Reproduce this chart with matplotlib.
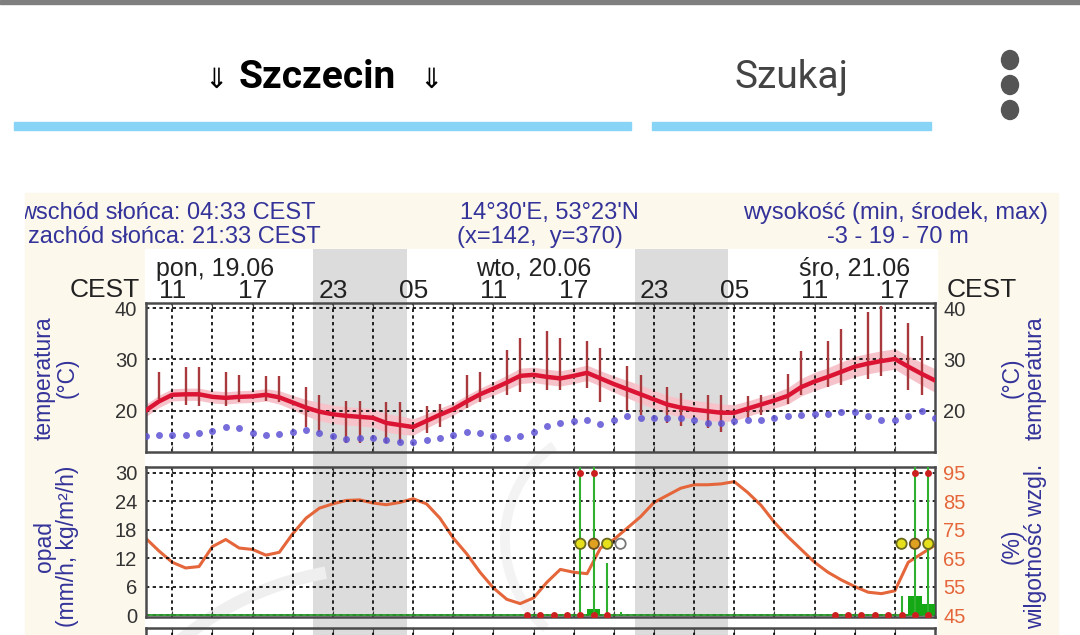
import matplotlib
matplotlib.use('Agg')
import matplotlib.pyplot as plt
from matplotlib.patches import Rectangle, Ellipse, Arc
from matplotlib import transforms

plt.rcParams['font.family'] = ['Liberation Sans', 'DejaVu Sans']

W, H = 1080, 635

# hourly series, hours counted from 19.06 00:00
hours = list(range(9, 69))
temp = [20.0, 21.8, 23.1, 23.2, 23.2, 22.7, 22.5, 22.7, 22.8, 23.1,
        22.6, 21.6, 20.6, 19.8, 19.3, 19.0, 18.8, 18.6, 17.6, 17.2,
        16.8, 18.0, 19.2, 20.3, 21.8, 23.2, 24.3, 25.5, 26.8, 27.0,
        26.6, 26.3, 26.8, 27.4, 26.3, 25.2, 24.2, 23.2, 22.2, 21.2,
        20.6, 20.2, 19.9, 19.6, 19.6, 20.4, 21.2, 22.0, 22.9, 24.6,
        25.7, 26.6, 27.6, 28.6, 29.2, 29.7, 30.1, 28.6, 27.2, 25.9]
band_half = [1.2, 1.2, 1.2, 1.2, 1.2, 1.2, 1.2, 1.2, 1.2, 1.2,
             1.3, 1.4, 1.6, 1.8, 1.8, 1.8, 1.8, 1.8, 1.8, 1.8,
             1.6, 1.4, 1.3, 1.2, 1.2, 1.2, 1.3, 1.4, 1.5, 1.5,
             1.5, 1.5, 1.5, 1.5, 1.5, 1.6, 1.7, 1.8, 1.8, 1.8,
             1.8, 1.8, 1.8, 1.7, 1.6, 1.5, 1.5, 1.5, 1.6, 1.7,
             1.8, 1.8, 1.9, 2.0, 2.0, 2.0, 2.0, 2.1, 2.2, 2.3]
dew = [15.0, 15.3, 15.3, 15.3, 15.7, 16.1, 16.9, 16.6, 15.7, 15.3,
       15.4, 15.9, 16.3, 15.6, 15.0, 14.5, 14.7, 14.7, 14.2, 13.8,
       13.8, 14.3, 14.7, 15.3, 15.9, 15.7, 15.0, 14.7, 15.0, 15.9,
       17.1, 17.6, 17.9, 18.1, 17.4, 18.1, 18.9, 18.6, 18.6, 18.6,
       18.6, 18.1, 17.6, 17.5, 17.9, 18.1, 18.2, 18.6, 18.9, 19.2,
       19.4, 19.4, 19.7, 19.7, 19.0, 18.1, 18.1, 19.0, 19.9, 18.6]
whisk_hours = [10, 12, 13, 15, 16, 18, 19, 21, 22, 24, 25, 27, 28, 30, 31, 33, 34, 36, 37,
               39, 40, 42, 43, 45, 46, 48, 49, 51, 52, 54, 55, 57, 58, 60, 61, 63, 64, 66, 67]
whisk_hi = [27.5, 28.6, 28.6, 27.5, 26.9, 26.7, 26.7, 24.7, 23.1, 21.8, 21.8, 21.6, 21.6,
            21.0, 21.4, 27.0, 27.6, 31.8, 34.1, 35.5, 34.1, 33.6, 32.2, 28.8, 26.9, 24.7,
            23.5, 23.1, 23.1, 22.8, 23.1, 27.2, 31.6, 33.6, 35.9, 39.2, 40.4, 37.1, 34.5]
whisk_lo = [22.2, 21.2, 21.0, 21.0, 21.6, 21.8, 21.6, 16.9, 15.9, 13.7, 13.7, 13.7, 13.7,
            15.7, 16.9, 20.6, 21.6, 23.1, 23.7, 24.1, 24.1, 24.5, 21.6, 20.2, 19.2, 17.5,
            17.1, 16.7, 15.9, 18.6, 19.2, 21.4, 23.1, 24.7, 25.1, 26.1, 26.7, 24.1, 23.1]
humidity = [72, 67.5, 63.5, 61.5, 62, 69, 71.5, 68.5, 68, 66,
            67, 73.5, 79, 82.5, 84, 85.2, 85.4, 84.3, 83.7, 84.5,
            85.8, 84, 79, 72, 66.5, 60, 54.5, 50.5, 49, 51,
            56.5, 61, 60, 59.5, 68.5, 71.5, 75.5, 79.5, 84.5, 87,
            89.5, 90.7, 90.7, 91, 91.8, 88, 83.5, 77.5, 72.5, 68,
            63.5, 60, 57.3, 55, 53, 52.5, 53.5, 63.5, 66.5, 69.5]

# precipitation (interval centres)
rain_hours = [37.5, 38.5, 39.5, 40.5, 41.5, 42.5, 43.5,
              60.5, 61.5, 62.5, 63.5, 64.5, 65.5, 66.5, 67.5]
conv_hours = [41.5, 42.5, 43.5, 44.5, 65.5, 66.5, 67.5]
conv_vals = [31.2, 31.2, 10.9, 0.6, 4.0, 31.2, 31.2]
bar_hours = [42.5, 66.5, 67.5]
bar_vals = [1.2, 4.0, 2.3]
top_hours = [41.5, 42.5, 66.5, 67.5]
storm_hours = [41.5, 42.5, 43.5, 44.5, 65.5, 66.5, 67.5]
storm_level = [1, 2, 1, 0, 1, 2, 1]

nights = [(21.55, 28.55), (45.55, 52.55)]
grid_hours = list(range(11, 68, 3))
hour_ticks = [11, 17, 23, 29, 35, 41, 47, 53, 59, 65]
hour_labels = ['11', '17', '23', '05', '11', '17', '23', '05', '11', '17']
day_pos = [14.2, 38.0, 62.0]
day_labels = ['pon, 19.06', 'wto, 20.06', 'śro, 21.06']

NAVY = '#33339a'
ORANGE = '#e4663a'


def box(x0, y0, x1, y1):
    return [x0 / W, 1 - y1 / H, (x1 - x0) / W, (y1 - y0) / H]


fig = plt.figure(figsize=(W / 100, H / 100), dpi=100)

# ---- app chrome and background, in pixel coordinates
ui = fig.add_axes([0, 0, 1, 1], zorder=0)
ui.set_xlim(0, W)
ui.set_ylim(H, 0)
ui.axis('off')
ui.add_patch(Rectangle((0, 0), W, 4, color='#7f7f7f'))
ui.add_patch(Rectangle((14, 122), 617, 8, color='#87d4f6'))
ui.add_patch(Rectangle((652, 122), 279, 8, color='#87d4f6'))
for yy in (60, 85, 110):
    ui.add_patch(Ellipse((1010, yy), 17, 19, color='#555555'))
ui.text(216, 80, '⇓', fontsize=20, family='DejaVu Sans', ha='center', va='center')
ui.text(317, 78, 'Szczecin', fontsize=28, family='Roboto', weight='bold', ha='center', va='center')
ui.text(431, 80, '⇓', fontsize=20, family='DejaVu Sans', ha='center', va='center')
ui.text(791, 78, 'Szukaj', fontsize=28, family='Roboto', color='#444444', ha='center', va='center')
ui.add_patch(Rectangle((25, 193), 1033, 442, color='#fdf8ec'))
ui.add_patch(Rectangle((145, 249), 792, 386, color='white'))

hdr = dict(fontsize=17, color=NAVY, va='baseline')
t1 = ui.text(19, 219, 'wschód słońca: 04:33 CEST', ha='left', clip_on=True, **hdr)
t1.set_clip_box(transforms.TransformedBbox(
    transforms.Bbox([[25, 193], [1058, 635]]), ui.transData))
ui.text(28, 243, 'zachód słońca: 21:33 CEST', ha='left', **hdr)
ui.text(549, 219, "14°30'E, 53°23'N", ha='center', **hdr)
ui.text(540, 243, '(x=142,  y=370)', ha='center', **hdr)
ui.text(1048, 219, 'wysokość (min, środek, max)', ha='right', **hdr)
ui.text(898, 243, '-3 - 19 - 70 m', ha='center', **hdr)
ui.text(140, 297, 'CEST', ha='right', va='baseline', fontsize=19, color='#222222')
ui.text(947, 297, 'CEST', ha='left', va='baseline', fontsize=19, color='#222222')

lab = dict(fontsize=16.5, color=NAVY, rotation=90, ha='center', va='center',
           linespacing=1.0, multialignment='center')
ui.text(56, 378, 'temperatura\n(°C)', **lab)
ui.text(1024, 378, '(°C)\ntemperatura', **lab)
ui.text(56, 546, 'opad\n(mm/h, kg/m²/h)', **lab)
ui.text(1024, 546, '(%)\nwilgotność wzgl.', **lab)

# ---- time strip with night shading
bg = fig.add_axes(box(145.5, 249, 935, 635), zorder=1)
bg.set_xlim(9, 68)
bg.set_ylim(0, 1)
bg.axis('off')
for a, b in nights:
    bg.axvspan(a, b, color='#dcdcdc', lw=0)
ident = transforms.IdentityTransform()
bg.add_patch(Arc((380, H - 880), 624, 624, theta1=100, theta2=135, lw=9,
                 color='#efefef', transform=ident, clip_on=False))
bg.add_patch(Arc((620, H - 540), 230, 230, theta1=125, theta2=230, lw=7,
                 color='#f3f3f3', transform=ident, clip_on=False))
xt = transforms.blended_transform_factory(bg.transData, fig.transFigure)
for x, s in zip(day_pos, day_labels):
    bg.text(x, 1 - 276 / H, s, transform=xt, ha='center', va='baseline', fontsize=18, color='#222222')
for x, s in zip(hour_ticks, hour_labels):
    bg.text(x, 1 - 298 / H, s, transform=xt, ha='center', va='baseline', fontsize=19, color='#222222')

dotted = dict(color='black', linestyle=(0, (2, 2)), lw=1.2)


def style(ax):
    ax.set_facecolor('none')
    ax.set_xlim(9, 68)
    ax.set_xticks(grid_hours)
    ax.tick_params(axis='x', direction='in', length=4, top=True, bottom=True,
                   labelbottom=False, color='#444444')
    ax.tick_params(axis='y', length=0, labelsize=14.5, labelcolor='#333333', pad=6)
    ax.grid(True, **dotted)
    for sp in ax.spines.values():
        sp.set_color('#4a4a4a')
        sp.set_linewidth(1.8)


# ---- temperature panel
ax_t = fig.add_axes(box(145.5, 303, 935, 452), zorder=2)
style(ax_t)
ax_t.set_ylim(11.93, 41.03)
ax_t.set_yticks([20, 30, 40])
ax_t.tick_params(axis='y', labelright=True)
lo = [v - d for v, d in zip(temp, band_half)]
hi = [v + d for v, d in zip(temp, band_half)]
ax_t.fill_between(hours, lo, hi, color='#f7c3cb', lw=0, zorder=1)
ax_t.vlines(whisk_hours, whisk_lo, whisk_hi, color='#a83a3e', lw=1.7, zorder=2)
ax_t.plot(hours, temp, color='#dc1434', lw=3.2, zorder=3, solid_capstyle='round')
ax_t.plot(hours, dew, 'o', ms=5, color='#5f54d4', mec='none', alpha=0.85, zorder=4)

# ---- precipitation / humidity panel
ax_p = fig.add_axes(box(145.5, 467, 935, 617), zorder=2)
style(ax_p)
p_lo, p_hi = -0.42, 31.16
ax_p.set_ylim(p_lo, p_hi)
ax_p.set_yticks([0, 6, 12, 18, 24, 30])
ax_h = ax_p.twinx()
ax_h.set_ylim(45 + p_lo * 5 / 3, 45 + p_hi * 5 / 3)
ax_h.set_yticks([45, 55, 65, 75, 85, 95])
ax_h.tick_params(axis='y', length=0, labelsize=14.5, labelcolor=ORANGE, pad=6)
for sp in ax_h.spines.values():
    sp.set_visible(False)
ax_h.plot(hours, humidity, color=ORANGE, lw=2.2)
ax_p.set_zorder(ax_h.get_zorder() + 1)
ax_p.patch.set_visible(False)

ax_p.axhline(0, color='#2a9a2a', lw=1.3, zorder=2)
ax_p.bar(bar_hours, bar_vals, width=1.0, color='#14a814', zorder=3)
ax_p.vlines(conv_hours, 0, conv_vals, color='#2fb02f', lw=1.5, zorder=3)
ax_p.plot(rain_hours, [0] * len(rain_hours), 'o', ms=5, color='#cc2020', mec='none', zorder=4)
ax_p.plot(top_hours, [30] * len(top_hours), 'o', ms=5, color='#cc2020', mec='none', zorder=4)
fills = {0: 'none', 1: '#e6e01c', 2: '#e0a020'}
edges = {0: '#777777', 1: '#6a6a20', 2: '#6a5020'}
ax_p.scatter(storm_hours, [15] * len(storm_hours), s=55, zorder=5, linewidths=1.3,
             facecolors=[fills[k] for k in storm_level],
             edgecolors=[edges[k] for k in storm_level])

# ---- next panel, only its top edge shows
ax_n = fig.add_axes(box(145.5, 628, 935, 760), zorder=2)
style(ax_n)
ax_n.set_ylim(0, 1)
ax_n.set_yticks([])
ax_n.grid(False)
for x in grid_hours:
    ax_n.axvline(x, **dotted)

fig.savefig('out.png', dpi=100)
